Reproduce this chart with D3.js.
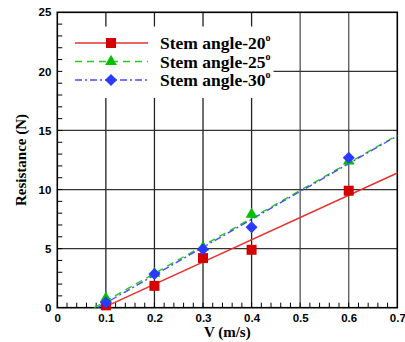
<!DOCTYPE html>
<html>
<head>
  <script src="https://d3js.org/d3.v7.min.js"></script>
  <style>
    body { margin: 0; background: #fff; }
  </style>
</head>
<body>
  <div id="chart"></div>
  <script>
    // values
    const speeds = [0.1, 0.2, 0.3, 0.4, 0.6];
    const angle20 = [0.2, 1.85, 4.2, 4.9, 9.9];
    const angle25 = [0.8, 2.9, 5.1, 7.9, 12.4];
    const angle30 = [0.45, 2.85, 4.95, 6.8, 12.7];
    // fitted trend lines: [start, end] points
    const fit20 = [[0.095, 0], [0.7, 11.4]];
    const fit25 = [[0.076, 0], [0.7, 14.6]];
    const fit30 = [[0.083, 0], [0.7, 14.55]];
    const seriesNames = ["Stem angle-20", "Stem angle-25", "Stem angle-30"];
    const xTicks = [0, 0.1, 0.2, 0.3, 0.4, 0.5, 0.6, 0.7];
    const yTicks = [0, 5, 10, 15, 20, 25];

    const width = 405, height = 342;
    const pLeft = 57.3, pRight = 397.3, pTop = 12.3, pBottom = 307.7;

    const svg = d3.select("#chart").append("svg")
      .attr("width", width).attr("height", height);

    const x = d3.scaleLinear().domain([0, 0.7]).range([pLeft, pRight]);
    const y = d3.scaleLinear().domain([0, 25]).range([pBottom, pTop]);

    // legend box area (grid hidden behind it)
    const legBox = { x0: 63, x1: x(0.445), y0: y(23.8), y1: y(17.75) };

    // vertical grid
    xTicks.slice(1, -1).forEach(function(t) {
      const px = x(t);
      if (px > legBox.x0 && px < legBox.x1) {
        svg.append("line").attr("x1", px).attr("x2", px).attr("y1", pTop).attr("y2", legBox.y0)
          .attr("stroke", "#222").attr("stroke-width", 1.3);
        svg.append("line").attr("x1", px).attr("x2", px).attr("y1", legBox.y1).attr("y2", pBottom)
          .attr("stroke", "#222").attr("stroke-width", 1.3);
      } else {
        svg.append("line").attr("x1", px).attr("x2", px).attr("y1", pTop).attr("y2", pBottom)
          .attr("stroke", "#555").attr("stroke-width", 1.3);
      }
    });

    // horizontal grid
    yTicks.slice(1, -1).forEach(function(t) {
      const py = y(t);
      const x0 = (py > legBox.y0 && py < legBox.y1) ? legBox.x1 : pLeft;
      svg.append("line").attr("x1", x0).attr("x2", pRight).attr("y1", py).attr("y2", py)
        .attr("stroke", "#333").attr("stroke-width", 1.3);
    });

    // minor ticks, pointing inwards
    d3.range(0.02, 0.7, 0.02).forEach(function(t) {
      svg.append("line").attr("x1", x(t)).attr("x2", x(t)).attr("y1", pBottom).attr("y2", pBottom - 5)
        .attr("stroke", "#000").attr("stroke-width", 1);
    });
    d3.range(1, 25, 1).forEach(function(t) {
      svg.append("line").attr("x1", pLeft).attr("x2", pLeft + 5).attr("y1", y(t)).attr("y2", y(t))
        .attr("stroke", "#000").attr("stroke-width", 1);
    });

    // frame
    svg.append("rect").attr("x", pLeft).attr("y", pTop)
      .attr("width", pRight - pLeft).attr("height", pBottom - pTop)
      .attr("fill", "none").attr("stroke", "#000").attr("stroke-width", 1.6);

    // tick labels
    const xAxis = d3.axisBottom(x).tickValues(xTicks).tickSize(0).tickPadding(6)
      .tickFormat(d => d === 0 ? "0" : d3.format(".1f")(d));
    const gx = svg.append("g").attr("transform", "translate(0," + pBottom + ")").call(xAxis);
    const yAxis = d3.axisLeft(y).tickValues(yTicks).tickSize(0).tickPadding(6);
    const gy = svg.append("g").attr("transform", "translate(" + pLeft + ",0)").call(yAxis);
    [gx, gy].forEach(function(g) {
      g.select(".domain").remove();
      g.selectAll("text").attr("font-family", "Liberation Sans, Arial, sans-serif")
        .attr("font-weight", "bold").attr("font-size", 11.5).attr("fill", "#000");
    });

    // axis titles
    svg.append("text").attr("x", (pLeft + pRight) / 2).attr("y", 337)
      .attr("text-anchor", "middle").attr("font-family", "Liberation Serif, Times New Roman, serif")
      .attr("font-weight", "bold").attr("font-size", 15).text("V  (m/s)");
    svg.append("text").attr("transform", "translate(26," + ((pTop + pBottom) / 2) + ") rotate(-90)")
      .attr("text-anchor", "middle").attr("font-family", "Liberation Serif, Times New Roman, serif")
      .attr("font-weight", "bold").attr("font-size", 15).text("Resistance (N)");

    const line = d3.line().x(d => x(d[0])).y(d => y(d[1]));

    const series = [
      { name: seriesNames[0], vals: angle20, fit: fit20, color: "#e8302c", mark: "#d40000", dash: null, shape: d3.symbolSquare, size: 100, rot: 0 },
      { name: seriesNames[1], vals: angle25, fit: fit25, color: "#22cc22", mark: "#00c000", dash: "7,5", shape: d3.symbolTriangle, size: 60, rot: 0 },
      { name: seriesNames[2], vals: angle30, fit: fit30, color: "#4a4aff", mark: "#2a3aff", dash: "7,3,2,3", shape: d3.symbolSquare, size: 72, rot: 45 }
    ];

    const plot = svg.append("g");
    series.forEach(function(s) {
      plot.append("path").attr("d", line(s.fit)).attr("fill", "none")
        .attr("stroke", s.color).attr("stroke-width", 1.4)
        .attr("stroke-dasharray", s.dash);
    });
    series.forEach(function(s) {
      plot.selectAll(null).data(speeds).enter().append("path")
        .attr("transform", (d, i) => "translate(" + x(d) + "," + y(s.vals[i]) + ") rotate(" + s.rot + ")")
        .attr("d", d3.symbol().type(s.shape).size(s.size))
        .attr("fill", s.mark);
    });

    // legend
    const legY = [43, 61.5, 80];
    series.forEach(function(s, i) {
      const g = svg.append("g").attr("transform", "translate(0," + legY[i] + ")");
      g.append("line").attr("x1", 75).attr("x2", 148).attr("y1", 0).attr("y2", 0)
        .attr("stroke", s.color).attr("stroke-width", 1.4).attr("stroke-dasharray", s.dash);
      g.append("path").attr("transform", "translate(111,0) rotate(" + s.rot + ")")
        .attr("d", d3.symbol().type(s.shape).size(s.size)).attr("fill", s.mark);
      const t = g.append("text").attr("x", 160).attr("y", 6)
        .attr("font-family", "Liberation Serif, Times New Roman, serif")
        .attr("font-weight", "bold").attr("font-size", 17.5).text(s.name);
      t.append("tspan").attr("dy", -8).attr("font-size", 10).text("o");
    });
  </script>
</body>
</html>
